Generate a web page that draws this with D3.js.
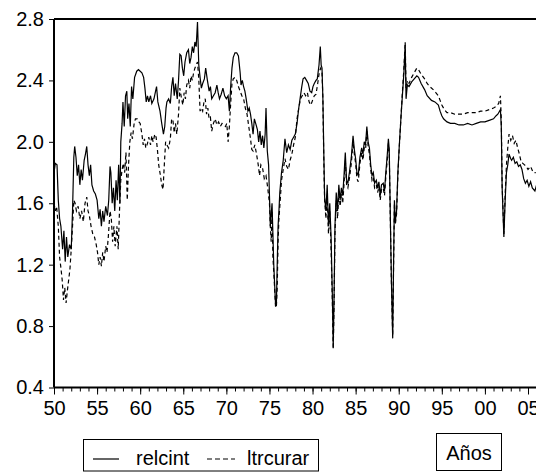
<!DOCTYPE html>
<html>
<head>
<meta charset="utf-8">
<script src="https://cdn.jsdelivr.net/npm/d3@7"></script>
<style>
  html, body { margin: 0; padding: 0; background: #fff; }
  svg { display: block; font-family: "Liberation Sans", Arial, sans-serif; }
</style>
</head>
<body>
<svg id="chart" width="536" height="472"></svg>
<script>
// ---- data ----
const yTicks = [0.4, 0.8, 1.2, 1.6, 2.0, 2.4, 2.8];
const xMajorYears = [1950, 1955, 1960, 1965, 1970, 1975, 1980, 1985, 1990, 1995, 2000, 2005];
const xTickLabels = ["50", "55", "60", "65", "70", "75", "80", "85", "90", "95", "00", "05"];
const seriesNames = ["relcint", "ltrcurar"];
const axisTitle = "Años";

const relcintT = [1950.0,1950.15,1950.35,1950.5,1950.65,1950.8,1951.0,1951.15,1951.3,1951.45,1951.6,1951.8,1952.0,1952.15,1952.3,1952.4,1952.55,1952.7,1952.85,1953.0,1953.15,1953.3,1953.5,1953.65,1953.8,1953.95,1954.1,1954.25,1954.4,1954.6,1954.8,1955.0,1955.2,1955.35,1955.5,1955.65,1955.8,1956.0,1956.2,1956.35,1956.5,1956.6,1956.75,1956.9,1957.05,1957.2,1957.35,1957.5,1957.65,1957.75,1957.9,1958.0,1958.15,1958.3,1958.45,1958.55,1958.7,1958.85,1959.0,1959.15,1959.35,1959.6,1959.8,1960.0,1960.2,1960.4,1960.55,1960.7,1960.85,1961.0,1961.2,1961.35,1961.6,1961.75,1961.9,1962.05,1962.3,1962.5,1962.7,1962.85,1963.0,1963.1,1963.3,1963.5,1963.65,1963.8,1963.95,1964.1,1964.3,1964.45,1964.6,1964.75,1964.9,1965.05,1965.2,1965.4,1965.6,1965.75,1965.9,1966.05,1966.2,1966.35,1966.5,1966.65,1966.8,1966.95,1967.1,1967.25,1967.45,1967.6,1967.8,1968.0,1968.15,1968.3,1968.5,1968.7,1968.9,1969.05,1969.2,1969.4,1969.6,1969.8,1970.0,1970.2,1970.35,1970.5,1970.65,1970.8,1971.0,1971.2,1971.4,1971.6,1971.7,1971.85,1972.0,1972.15,1972.3,1972.5,1972.65,1972.8,1972.95,1973.1,1973.25,1973.45,1973.6,1973.75,1973.9,1974.05,1974.2,1974.35,1974.5,1974.6,1974.75,1974.9,1975.0,1975.1,1975.3,1975.5,1975.7,1975.8,1975.9,1976.0,1976.1,1976.2,1976.4,1976.6,1976.8,1977.0,1977.2,1977.4,1977.6,1977.8,1978.0,1978.2,1978.4,1978.55,1978.75,1978.9,1979.1,1979.3,1979.5,1979.7,1979.9,1980.05,1980.2,1980.4,1980.55,1980.75,1980.9,1981.0,1981.1,1981.2,1981.3,1981.4,1981.55,1981.7,1981.85,1982.0,1982.15,1982.3,1982.4,1982.5,1982.6,1982.75,1982.9,1983.05,1983.2,1983.35,1983.5,1983.65,1983.8,1983.95,1984.1,1984.3,1984.5,1984.7,1984.85,1985.0,1985.15,1985.3,1985.5,1985.7,1985.85,1986.0,1986.15,1986.3,1986.45,1986.6,1986.75,1986.9,1987.05,1987.2,1987.4,1987.55,1987.7,1987.85,1988.0,1988.2,1988.35,1988.5,1988.65,1988.8,1988.9,1989.0,1989.15,1989.3,1989.4,1989.5,1989.6,1989.75,1989.9,1990.05,1990.25,1990.4,1990.6,1990.75,1990.85,1991.0,1991.2,1991.5,1991.8,1992.1,1992.3,1992.6,1993.0,1993.3,1993.8,1994.2,1994.6,1994.8,1995.0,1995.2,1995.6,1996.0,1996.5,1997.0,1997.5,1998.0,1998.5,1999.0,1999.5,2000.0,2000.5,2001.0,2001.3,2001.5,2001.8,2001.9,2002.0,2002.2,2002.35,2002.5,2002.65,2002.8,2003.0,2003.1,2003.3,2003.5,2003.7,2003.9,2004.1,2004.3,2004.5,2004.7,2004.9,2005.1,2005.3,2005.5,2005.8,2006.0];
const relcintV = [1.80,1.86,1.85,1.62,1.50,1.45,1.30,1.42,1.22,1.38,1.25,1.33,1.30,1.55,1.90,1.97,1.90,1.78,1.85,1.72,1.82,1.75,1.88,1.92,1.97,1.85,1.78,1.85,1.72,1.68,1.66,1.62,1.50,1.56,1.45,1.55,1.48,1.58,1.52,1.62,1.84,1.80,1.60,1.70,1.55,1.75,1.62,1.85,1.60,2.00,2.12,2.26,2.10,2.30,2.33,2.15,2.25,2.10,2.36,2.28,2.42,2.46,2.47,2.46,2.45,2.42,2.35,2.26,2.30,2.26,2.30,2.25,2.28,2.32,2.36,2.26,2.20,2.12,2.05,2.10,2.22,2.26,2.28,2.25,2.36,2.42,2.30,2.38,2.28,2.40,2.57,2.56,2.48,2.43,2.52,2.58,2.60,2.51,2.55,2.62,2.58,2.65,2.62,2.78,2.50,2.42,2.35,2.38,2.41,2.48,2.40,2.33,2.36,2.28,2.30,2.32,2.37,2.32,2.28,2.31,2.35,2.30,2.28,2.30,2.20,2.36,2.48,2.55,2.58,2.58,2.56,2.45,2.37,2.40,2.36,2.33,2.28,2.20,2.22,2.18,2.12,2.05,2.15,2.11,2.08,2.00,2.07,1.98,2.04,1.96,2.05,2.22,1.94,1.85,1.65,1.45,1.60,1.20,0.95,0.93,1.20,1.45,1.55,1.67,1.80,1.88,2.02,1.93,1.98,1.95,2.01,2.03,2.05,2.12,2.22,2.28,2.36,2.41,2.42,2.40,2.38,2.33,2.32,2.36,2.38,2.40,2.41,2.50,2.62,2.50,2.48,2.28,1.95,1.64,1.55,1.72,1.45,1.60,1.38,1.00,0.66,1.00,1.45,1.67,1.55,1.72,1.62,1.70,1.65,1.78,1.93,1.75,1.73,1.81,1.90,2.04,1.95,1.89,1.80,1.78,1.90,1.96,1.92,2.00,1.98,2.10,2.00,1.96,1.85,1.78,1.80,1.73,1.75,1.70,1.74,1.65,1.72,1.73,1.68,1.80,1.90,2.02,1.95,1.60,1.10,0.72,1.20,1.62,1.48,1.55,1.80,1.96,2.15,2.28,2.45,2.63,2.28,2.37,2.36,2.39,2.41,2.43,2.42,2.38,2.34,2.30,2.27,2.26,2.24,2.20,2.17,2.15,2.13,2.12,2.12,2.11,2.11,2.12,2.11,2.12,2.13,2.13,2.14,2.15,2.17,2.18,2.21,2.10,1.70,1.38,1.62,1.80,1.85,1.92,1.89,1.88,1.90,1.86,1.87,1.84,1.85,1.82,1.76,1.73,1.75,1.71,1.74,1.70,1.68,1.72];

const ltrcurarT = [1950.0,1950.15,1950.3,1950.5,1950.65,1950.8,1950.95,1951.1,1951.25,1951.4,1951.55,1951.7,1951.85,1952.0,1952.15,1952.3,1952.45,1952.6,1952.8,1953.0,1953.2,1953.4,1953.6,1953.8,1953.95,1954.1,1954.3,1954.5,1954.7,1954.9,1955.05,1955.2,1955.35,1955.5,1955.65,1955.8,1956.0,1956.15,1956.3,1956.5,1956.65,1956.8,1956.95,1957.1,1957.3,1957.45,1957.6,1957.75,1957.9,1958.05,1958.2,1958.35,1958.5,1958.65,1958.8,1958.95,1959.1,1959.3,1959.45,1959.65,1959.85,1960.0,1960.2,1960.35,1960.5,1960.65,1960.85,1961.0,1961.2,1961.35,1961.5,1961.7,1961.85,1962.0,1962.15,1962.35,1962.5,1962.65,1962.8,1962.95,1963.1,1963.3,1963.5,1963.65,1963.8,1963.95,1964.1,1964.25,1964.45,1964.6,1964.8,1964.95,1965.1,1965.25,1965.4,1965.6,1965.75,1965.9,1966.05,1966.2,1966.35,1966.5,1966.65,1966.8,1966.95,1967.1,1967.25,1967.4,1967.55,1967.7,1967.85,1968.0,1968.15,1968.3,1968.5,1968.7,1968.9,1969.1,1969.3,1969.5,1969.7,1969.9,1970.05,1970.2,1970.35,1970.5,1970.65,1970.8,1971.0,1971.2,1971.4,1971.6,1971.8,1972.0,1972.2,1972.4,1972.6,1972.8,1972.95,1973.1,1973.3,1973.5,1973.7,1973.85,1974.0,1974.2,1974.4,1974.6,1974.8,1975.0,1975.1,1975.2,1975.3,1975.4,1975.55,1975.7,1975.8,1975.9,1976.0,1976.1,1976.25,1976.4,1976.6,1976.8,1977.0,1977.2,1977.4,1977.6,1977.8,1978.0,1978.2,1978.4,1978.6,1978.8,1979.0,1979.2,1979.4,1979.6,1979.8,1980.0,1980.2,1980.4,1980.6,1980.8,1980.95,1981.1,1981.2,1981.3,1981.4,1981.55,1981.7,1981.85,1982.0,1982.15,1982.3,1982.4,1982.5,1982.6,1982.75,1982.9,1983.05,1983.2,1983.35,1983.5,1983.65,1983.8,1983.95,1984.1,1984.3,1984.5,1984.7,1984.85,1985.0,1985.15,1985.3,1985.5,1985.7,1985.85,1986.0,1986.15,1986.3,1986.45,1986.6,1986.75,1986.9,1987.05,1987.2,1987.4,1987.55,1987.7,1987.85,1988.0,1988.2,1988.35,1988.5,1988.65,1988.8,1988.9,1989.0,1989.15,1989.3,1989.4,1989.5,1989.6,1989.75,1989.9,1990.05,1990.25,1990.4,1990.6,1990.75,1990.85,1991.0,1991.2,1991.5,1991.8,1992.1,1992.3,1992.6,1993.0,1993.3,1993.6,1994.0,1994.3,1994.6,1994.8,1995.0,1995.3,1995.6,1996.0,1996.5,1997.0,1997.5,1998.0,1998.5,1999.0,1999.5,2000.0,2000.5,2001.0,2001.3,2001.6,2001.8,2001.9,2002.0,2002.2,2002.35,2002.5,2002.65,2002.8,2003.0,2003.2,2003.4,2003.6,2003.8,2004.0,2004.2,2004.4,2004.6,2004.8,2005.0,2005.3,2005.6,2005.9];
const ltrcurarV = [1.60,1.55,1.58,1.45,1.25,1.18,1.10,0.97,1.05,0.95,1.03,1.10,1.17,1.30,1.45,1.62,1.60,1.55,1.58,1.50,1.55,1.48,1.60,1.64,1.55,1.52,1.45,1.40,1.38,1.33,1.28,1.20,1.25,1.19,1.28,1.22,1.32,1.28,1.38,1.55,1.50,1.35,1.45,1.32,1.45,1.30,1.55,1.75,1.82,1.86,1.80,1.93,1.62,1.85,2.00,2.06,2.02,2.12,2.15,2.15,2.13,2.12,2.05,1.98,2.02,1.96,1.99,2.03,1.98,2.04,2.00,2.05,2.03,1.95,1.85,1.78,1.72,1.69,1.85,2.00,1.98,1.96,2.02,2.15,2.14,2.06,2.12,2.05,2.18,2.35,2.28,2.24,2.32,2.28,2.37,2.40,2.35,2.43,2.40,2.45,2.48,2.50,2.52,2.41,2.20,2.22,2.20,2.26,2.28,2.18,2.22,2.15,2.16,2.07,2.12,2.15,2.11,2.13,2.10,2.12,2.11,2.10,2.12,2.00,2.10,2.25,2.38,2.41,2.42,2.40,2.36,2.33,2.30,2.28,2.22,2.18,2.10,2.02,1.95,1.94,1.98,1.92,1.85,1.78,1.85,1.83,1.76,1.78,1.70,1.60,1.45,1.35,1.55,1.25,1.10,0.93,0.92,1.05,1.35,1.50,1.62,1.75,1.82,1.89,1.84,1.82,1.88,1.92,1.98,2.03,2.15,2.22,2.28,2.30,2.32,2.30,2.32,2.26,2.24,2.27,2.30,2.31,2.38,2.46,2.48,2.45,2.28,1.90,1.62,1.50,1.65,1.40,1.55,1.30,0.95,0.65,0.95,1.40,1.62,1.50,1.68,1.58,1.66,1.60,1.72,1.88,1.72,1.70,1.77,1.86,2.00,1.92,1.86,1.76,1.74,1.86,1.93,1.88,1.96,1.95,2.07,1.97,1.92,1.82,1.75,1.77,1.70,1.72,1.67,1.71,1.62,1.69,1.70,1.65,1.77,1.87,1.99,1.92,1.58,1.08,0.74,1.18,1.60,1.46,1.53,1.78,1.95,2.15,2.30,2.48,2.65,2.35,2.40,2.38,2.42,2.45,2.48,2.47,2.44,2.41,2.38,2.36,2.34,2.32,2.30,2.27,2.24,2.21,2.19,2.19,2.18,2.18,2.18,2.19,2.19,2.19,2.20,2.20,2.21,2.22,2.23,2.25,2.30,2.15,1.72,1.40,1.66,1.85,1.96,2.05,2.01,2.04,1.99,2.01,1.96,1.92,1.87,1.86,1.85,1.84,1.82,1.84,1.80,1.80];

// ---- layout ----
const svg = d3.select("#chart");
const pL = 54, pT = 19, pB = 387.5, pR = 536;
const fontPx = 20;
const xS = d3.scaleLinear().domain([1950, 2005]).range([pL, 528]);
const yS = d3.scaleLinear().domain([0.4, 2.8]).range([pB, pT]);

svg.append("defs").append("clipPath").attr("id", "plotclip")
  .append("rect").attr("x", pL).attr("y", 0).attr("width", pR - pL + 10).attr("height", pB + 2);

const lineGen = d3.line().x(d => xS(d[0])).y(d => yS(d[1]));
const solidData = relcintT.map((t, i) => [t, relcintV[i]]);
const dashData = ltrcurarT.map((t, i) => [t, ltrcurarV[i]]);

const g = svg.append("g").attr("clip-path", "url(#plotclip)");
g.append("path").datum(dashData).attr("d", lineGen)
  .attr("fill", "none").attr("stroke", "#000").attr("stroke-width", 1.2)
  .attr("stroke-dasharray", "4,3");
g.append("path").datum(solidData).attr("d", lineGen)
  .attr("fill", "none").attr("stroke", "#000").attr("stroke-width", 1.2);

// frame top
svg.append("line").attr("x1", pL).attr("x2", pR).attr("y1", pT).attr("y2", pT)
  .attr("stroke", "#000").attr("stroke-width", 2);

// y axis
const yAxis = d3.axisLeft(yS).tickValues(yTicks).tickFormat(d3.format(".1f")).tickSize(5).tickPadding(5);
const ya = svg.append("g").attr("transform", `translate(${pL},0)`).call(yAxis);
ya.select(".domain").attr("stroke-width", 2).attr("d", `M0,${pT}V${pB}`);
ya.selectAll("text").attr("font-size", fontPx).attr("font-family", "Liberation Sans, Arial, sans-serif").attr("fill", "#000");

// x axis minor ticks
const minorYears = d3.range(1950, 2007);
const xMinor = d3.axisBottom(xS).tickValues(minorYears).tickFormat("").tickSize(4);
const xm = svg.append("g").attr("transform", `translate(0,${pB})`).call(xMinor);
xm.select(".domain").remove();

const xAxis = d3.axisBottom(xS).tickValues(xMajorYears)
  .tickFormat((d, i) => xTickLabels[i]).tickSize(7).tickPadding(6);
const xa = svg.append("g").attr("transform", `translate(0,${pB})`).call(xAxis);
xa.select(".domain").attr("stroke-width", 2).attr("d", `M${pL},0H${pR}`);
xa.selectAll("text").attr("font-size", fontPx).attr("font-family", "Liberation Sans, Arial, sans-serif").attr("fill", "#000");

// legend
const leg = svg.append("g");
leg.append("rect").attr("x", 83.5).attr("y", 439.5).attr("width", 235).attr("height", 31.5)
  .attr("fill", "none").attr("stroke", "#000").attr("stroke-width", 1);
leg.append("line").attr("x1", 93).attr("x2", 119).attr("y1", 459).attr("y2", 459)
  .attr("stroke", "#000").attr("stroke-width", 1.2);
leg.append("text").attr("x", 136).attr("y", 465).attr("font-size", fontPx).text(seriesNames[0]);
leg.append("line").attr("x1", 207).attr("x2", 235).attr("y1", 459).attr("y2", 459)
  .attr("stroke", "#000").attr("stroke-width", 1.2).attr("stroke-dasharray", "5,3");
leg.append("text").attr("x", 247).attr("y", 465).attr("font-size", fontPx).text(seriesNames[1]);

// axis title box
svg.append("rect").attr("x", 436.5).attr("y", 433.5).attr("width", 65).attr("height", 37)
  .attr("fill", "none").attr("stroke", "#000").attr("stroke-width", 1);
svg.append("text").attr("x", 469).attr("y", 460).attr("text-anchor", "middle")
  .attr("font-size", fontPx).text(axisTitle);
</script>
</body>
</html>
